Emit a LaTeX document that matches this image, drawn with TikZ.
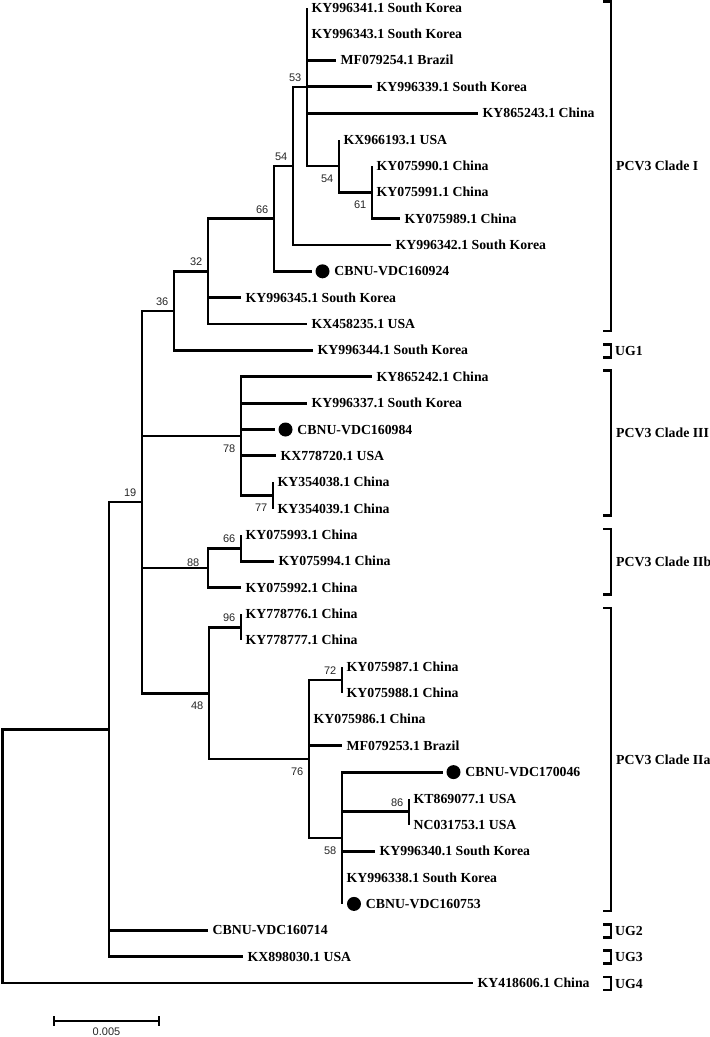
\documentclass[tikz,border=0pt]{standalone}
\usepackage{fontspec}
\setmainfont{Liberation Serif}
\newfontfamily\bootfont{Liberation Sans}

\begin{document}
\begin{tikzpicture}[x=1pt, y=-1pt,
        branch/.style={line width=2.8pt},
        taxon/.style={anchor=west, inner xsep=4.5pt, inner ysep=0pt, text height=9.1pt, text depth=0pt, font=\fontsize{13.8}{16}\selectfont\bfseries},
        tipdot/.style={circle, fill=black, inner sep=0pt, minimum size=14pt},
        bootup/.style={anchor=south east, inner sep=0pt, xshift=-5.5pt, yshift=5pt, text=black!85, font=\bootfont\fontsize{11}{12}\selectfont},
        bootdown/.style={anchor=north east, inner sep=0pt, xshift=-5.5pt, yshift=-8.5pt, text=black!85, font=\bootfont\fontsize{11}{12}\selectfont},
        bracket/.style={line width=2.6pt},
        clade/.style={taxon, inner xsep=0pt}]
        \useasboundingbox (0,0) rectangle (710,1037);

        % Inner nodes of the tree
        \coordinate (root) at (2.7,856);
        \coordinate (nA) at (109,729.3);
        \coordinate (b19) at (142,502);
        \coordinate (b36) at (174,310.9);
        \coordinate (b32) at (208,271.3);
        \coordinate (b66a) at (274,218.6);
        \coordinate (b54a) at (293,165.9);
        \coordinate (b53) at (307,86.9);
        \coordinate (b54b) at (339,166);
        \coordinate (b61) at (372,192.4);
        \coordinate (b78) at (241,436);
        \coordinate (b77) at (273,495.4);
        \coordinate (b88) at (208,567.9);
        \coordinate (b66b) at (241,548.1);
        \coordinate (b48) at (209,693.1);
        \coordinate (b96) at (241,627.2);
        \coordinate (b76) at (309,759);
        \coordinate (b72) at (342,679.9);
        \coordinate (b58) at (342,838);
        \coordinate (b86) at (409,811.7);

        % Branch tips
        \coordinate (t1) at (307,7.7);
        \coordinate (t2) at (307,34.1);
        \coordinate (t3) at (336,60.4);
        \coordinate (t4) at (372,86.8);
        \coordinate (t5) at (478,113.1);
        \coordinate (t6) at (339,139.5);
        \coordinate (t7) at (372,165.9);
        \coordinate (t8) at (372,192.2);
        \coordinate (t9) at (400,218.6);
        \coordinate (t10) at (391,244.9);
        \coordinate (t11) at (312,271.3);
        \coordinate (t12) at (241,297.7);
        \coordinate (t13) at (307,324);
        \coordinate (t14) at (313,350.4);
        \coordinate (t15) at (372,376.7);
        \coordinate (t16) at (307,403.1);
        \coordinate (t17) at (275,429.5);
        \coordinate (t18) at (276,455.8);
        \coordinate (t19) at (273,482.2);
        \coordinate (t20) at (273,508.5);
        \coordinate (t21) at (241,534.9);
        \coordinate (t22) at (274,561.3);
        \coordinate (t23) at (241,587.6);
        \coordinate (t24) at (241,614);
        \coordinate (t25) at (241,640.3);
        \coordinate (t26) at (342,666.7);
        \coordinate (t27) at (342,693.1);
        \coordinate (t28) at (309,719.4);
        \coordinate (t29) at (342,745.8);
        \coordinate (t30) at (443,772.1);
        \coordinate (t31) at (409,798.5);
        \coordinate (t32) at (409,824.9);
        \coordinate (t33) at (375,851.2);
        \coordinate (t34) at (342,877.6);
        \coordinate (t35) at (342,903.9);
        \coordinate (t36) at (208,930.3);
        \coordinate (t37) at (243,956.7);
        \coordinate (t38) at (473,983);

        % Branches
        \draw[branch] (root) |- (nA) (root) |- (t38);
        \draw[branch] (nA) |- (b19) (nA) |- (t36) (nA) |- (t37);
        \draw[branch] (b19) |- (b36) (b19) |- (b78) (b19) |- (b88) (b19) |- (b48);
        \draw[branch] (b36) |- (b32) (b36) |- (t14);
        \draw[branch] (b32) |- (b66a) (b32) |- (t12) (b32) |- (t13);
        \draw[branch] (b66a) |- (b54a) (b66a) |- (t11);
        \draw[branch] (b54a) |- (b53) (b54a) |- (t10);
        \draw[branch] (b53) |- (t1) (b53) |- (t2) (b53) |- (t3) (b53) |- (t4) (b53) |- (t5) (b53) |- (b54b);
        \draw[branch] (b54b) |- (t6) (b54b) |- (b61);
        \draw[branch] (b61) |- (t7) (b61) |- (t8) (b61) |- (t9);
        \draw[branch] (b78) |- (t15) (b78) |- (t16) (b78) |- (t17) (b78) |- (t18) (b78) |- (b77);
        \draw[branch] (b77) |- (t19) (b77) |- (t20);
        \draw[branch] (b88) |- (b66b) (b88) |- (t23);
        \draw[branch] (b66b) |- (t21) (b66b) |- (t22);
        \draw[branch] (b48) |- (b96) (b48) |- (b76);
        \draw[branch] (b96) |- (t24) (b96) |- (t25);
        \draw[branch] (b76) |- (b72) (b76) |- (t28) (b76) |- (t29) (b76) |- (b58);
        \draw[branch] (b72) |- (t26) (b72) |- (t27);
        \draw[branch] (b58) |- (t30) (b58) |- (b86) (b58) |- (t33) (b58) |- (t34) (b58) |- (t35);
        \draw[branch] (b86) |- (t31) (b86) |- (t32);

        % Bootstrap values
        \node[bootup] (s53) at (b53) {53};
        \node[bootup] (s54a) at (b54a) {54};
        \node[bootdown] (s54b) at (b54b) {54};
        \node[bootdown] (s61) at (b61) {61};
        \node[bootup] (s66a) at (b66a) {66};
        \node[bootup] (s32) at (b32) {32};
        \node[bootup] (s36) at (b36) {36};
        \node[bootup] (s19) at (b19) {19};
        \node[bootdown] (s78) at (b78) {78};
        \node[bootdown] (s77) at (b77) {77};
        \node[bootup] (s66b) at (b66b) {66};
        \node[bootup, xshift=-3pt, yshift=-4pt] (s88) at (b88) {88};
        \node[bootup] (s96) at (b96) {96};
        \node[bootdown] (s48) at (b48) {48};
        \node[bootup] (s72) at (b72) {72};
        \node[bootdown] (s76) at (b76) {76};
        \node[bootdown] (s58) at (b58) {58};
        \node[bootup] (s86) at (b86) {86};

        % Marked sequences
        \node[tipdot] (d11) at ([xshift=10.5pt]t11) {};
        \node[tipdot] (d17) at ([xshift=10.5pt]t17) {};
        \node[tipdot] (d30) at ([xshift=10.5pt]t30) {};
        \node[tipdot] (d35) at ([xshift=12pt]t35) {};

        % Taxon names
        \node[taxon] (l1) at (t1) {KY996341.1 South Korea};
        \node[taxon] (l2) at (t2) {KY996343.1 South Korea};
        \node[taxon] (l3) at (t3) {MF079254.1 Brazil};
        \node[taxon] (l4) at (t4) {KY996339.1 South Korea};
        \node[taxon] (l5) at (t5) {KY865243.1 China};
        \node[taxon] (l6) at (t6) {KX966193.1 USA};
        \node[taxon] (l7) at (t7) {KY075990.1 China};
        \node[taxon] (l8) at (t8) {KY075991.1 China};
        \node[taxon] (l9) at (t9) {KY075989.1 China};
        \node[taxon] (l10) at (t10) {KY996342.1 South Korea};
        \node[taxon] (l11) at (d11.east) {CBNU-VDC160924};
        \node[taxon] (l12) at (t12) {KY996345.1 South Korea};
        \node[taxon] (l13) at (t13) {KX458235.1 USA};
        \node[taxon] (l14) at (t14) {KY996344.1 South Korea};
        \node[taxon] (l15) at (t15) {KY865242.1 China};
        \node[taxon] (l16) at (t16) {KY996337.1 South Korea};
        \node[taxon] (l17) at (d17.east) {CBNU-VDC160984};
        \node[taxon] (l18) at (t18) {KX778720.1 USA};
        \node[taxon] (l19) at (t19) {KY354038.1 China};
        \node[taxon] (l20) at (t20) {KY354039.1 China};
        \node[taxon] (l21) at (t21) {KY075993.1 China};
        \node[taxon] (l22) at (t22) {KY075994.1 China};
        \node[taxon] (l23) at (t23) {KY075992.1 China};
        \node[taxon] (l24) at (t24) {KY778776.1 China};
        \node[taxon] (l25) at (t25) {KY778777.1 China};
        \node[taxon] (l26) at (t26) {KY075987.1 China};
        \node[taxon] (l27) at (t27) {KY075988.1 China};
        \node[taxon] (l28) at (t28) {KY075986.1 China};
        \node[taxon] (l29) at (t29) {MF079253.1 Brazil};
        \node[taxon] (l30) at (d30.east) {CBNU-VDC170046};
        \node[taxon] (l31) at (t31) {KT869077.1 USA};
        \node[taxon] (l32) at (t32) {NC031753.1 USA};
        \node[taxon] (l33) at (t33) {KY996340.1 South Korea};
        \node[taxon] (l34) at (t34) {KY996338.1 South Korea};
        \node[taxon] (l35) at (d35.east) {CBNU-VDC160753};
        \node[taxon] (l36) at (t36) {CBNU-VDC160714};
        \node[taxon] (l37) at (t37) {KX898030.1 USA};
        \node[taxon] (l38) at (t38) {KY418606.1 China};

        % Clade brackets
        \draw[bracket] (603,1.7) -| (611,331) -- (603,331);
        \draw[bracket] (603,344.4) -| (611,357.4) -- (603,357.4);
        \draw[bracket] (603,370.7) -| (611,515.5) -- (603,515.5);
        \draw[bracket] (603,528.9) -| (611,594.6) -- (603,594.6);
        \draw[bracket] (603,608) -| (611,911) -- (603,911);
        \draw[bracket] (603,924.3) -| (611,937.3) -- (603,937.3);
        \draw[bracket] (603,950.7) -| (611,963.7) -- (603,963.7);
        \draw[bracket] (603,977) -| (611,990) -- (603,990);

        % Clade names
        \node[clade] (cI) at (616,166) {PCV3 Clade I};
        \node[clade] (ug1) at (615,351) {UG1};
        \node[clade] (cIII) at (616,433) {PCV3 Clade III};
        \node[clade] (cIIb) at (616,562) {PCV3 Clade IIb};
        \node[clade] (cIIa) at (616,760) {PCV3 Clade IIa};
        \node[clade] (ug2) at (615,931) {UG2};
        \node[clade] (ug3) at (615,957) {UG3};
        \node[clade] (ug4) at (615,984) {UG4};

        % Scale bar
        \draw[line width=1.3pt] (54,1016) -- (54,1026) (54,1021) -- (159,1021) (159,1016) -- (159,1026);
        \node[inner sep=0pt, text=black!85, font=\bootfont\fontsize{11}{12}\selectfont] (sb) at (106.5,1032) {0.005};
    \end{tikzpicture}
\end{document}
